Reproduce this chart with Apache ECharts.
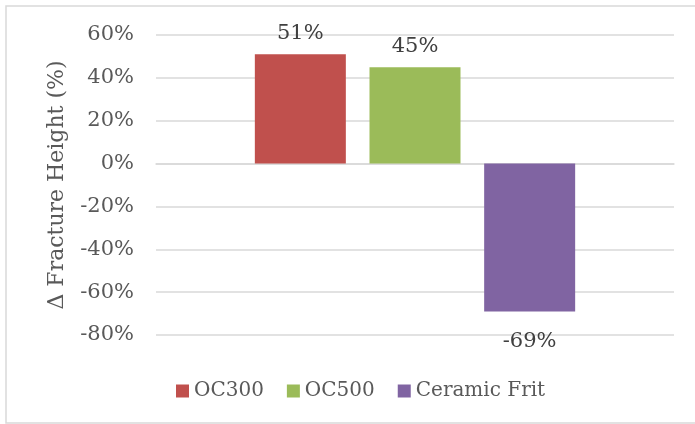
<!DOCTYPE html>
<html>
<head>
<meta charset="utf-8">
<script src="https://cdn.jsdelivr.net/npm/echarts@6/dist/echarts.min.js"></script>
<style>
  html, body { margin: 0; padding: 0; background: #fff; }
  #chart { width: 695px; height: 424px; }
</style>
</head>
<body>
<div id="chart"></div>
<script>
// Change in fracture height per proppant type
const seriesNames = ['OC300', 'OC500', 'Ceramic Frit'];
const seriesValues = [0.51, 0.45, -0.69];
const seriesColors = ['#C0504D', '#9BBB59', '#8064A2'];
const categories = [''];
const yTicks = { min: -0.8, max: 0.6, interval: 0.2 };

const FONT = 'DejaVu Serif';
const TEXT = '#595959';
const pct = v => Math.round(v * 100) + '%';

const chart = echarts.init(document.getElementById('chart'), null, { renderer: 'canvas' });

const series = seriesNames.map((name, i) => ({
  name: name,
  type: 'bar',
  data: [seriesValues[i]],
  barWidth: 91,
  barGap: '26%',
  itemStyle: { color: seriesColors[i] },
  label: {
    show: true,
    position: seriesValues[i] >= 0 ? 'top' : 'bottom',
    distance: seriesValues[i] >= 0 ? 10 : 20,
    formatter: p => pct(p.value),
    fontFamily: FONT,
    fontSize: 21,
    color: '#404040'
  }
}));

chart.setOption({
  animation: false,
  backgroundColor: '#fff',
  graphic: [{
    type: 'rect',
    shape: { x: 6, y: 6, width: 700, height: 417 },
    style: { fill: 'none', stroke: '#d9d9d9', lineWidth: 1.5 },
    silent: true
  }],
  grid: { left: 156, right: 21, top: 35, bottom: 89 },
  legend: {
    data: seriesNames,
    left: 171,
    top: 376,
    icon: 'rect',
    itemWidth: 13,
    itemHeight: 13,
    itemGap: 23,
    textStyle: { fontFamily: FONT, fontSize: 20, color: TEXT }
  },
  xAxis: {
    type: 'category',
    data: categories,
    axisLine: { show: true, lineStyle: { color: '#d9d9d9', width: 1.5 } },
    axisTick: { show: false },
    axisLabel: { show: false }
  },
  yAxis: {
    type: 'value',
    min: yTicks.min,
    max: yTicks.max,
    interval: yTicks.interval,
    name: 'Δ Fracture Height (%)',
    nameLocation: 'middle',
    nameGap: 88,
    nameTextStyle: { fontFamily: FONT, fontSize: 22, color: TEXT },
    axisLine: { show: false },
    axisTick: { show: false },
    axisLabel: {
      margin: 22,
      formatter: v => pct(v),
      fontFamily: FONT,
      fontSize: 21,
      color: TEXT
    },
    splitLine: { lineStyle: { color: '#d9d9d9', width: 1.5 } }
  },
  series: series
});
</script>
</body>
</html>
